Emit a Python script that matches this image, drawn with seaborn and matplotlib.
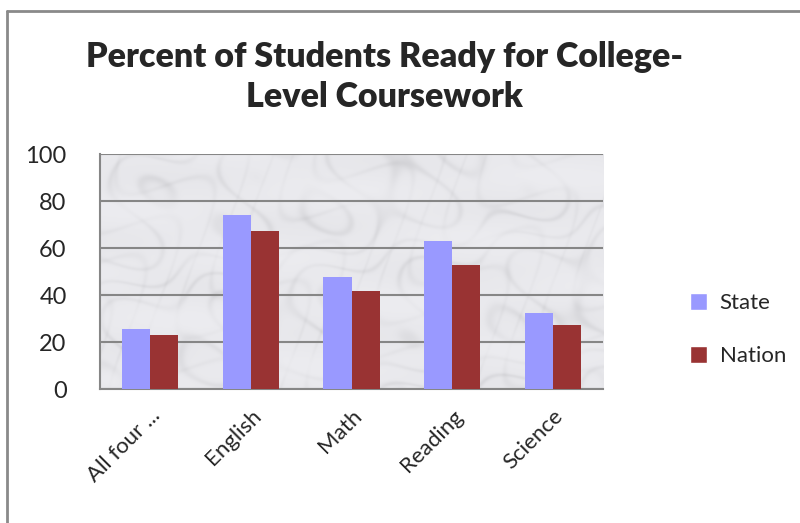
import numpy as np
import pandas as pd
import matplotlib
matplotlib.use("Agg")
import matplotlib.pyplot as plt
import seaborn as sns
from matplotlib.lines import Line2D
from matplotlib.patches import Patch

categories = ["All four ...", "English", "Math", "Reading", "Science"]
state = [25.5, 73.9, 47.7, 63.0, 32.3]
nation = [23.1, 67.2, 41.7, 52.8, 27.2]
series_names = ["State", "Nation"]
y_ticks = [0, 20, 40, 60, 80, 100]
title = "Percent of Students Ready for College-\nLevel Coursework"

df = pd.DataFrame({
    "Subject": categories * 2,
    "Percent": state + nation,
    "Series": [series_names[0]] * len(categories) + [series_names[1]] * len(categories),
})

sns.set_style("white")
plt.rcParams["font.family"] = ["Lato", "DejaVu Sans"]

fig = plt.figure(figsize=(8, 5.23), dpi=100)
ax = fig.add_axes([0.125, 0.256, 0.629, 0.4495])

# marble-like background texture (deterministic)
yy, xx = np.mgrid[0:240, 0:500]
u = xx / 500.0
v = yy / 240.0
w1 = np.sin(14 * (u + 0.7 * v) + 2.5 * np.sin(11 * v + 3 * u) + 1.5 * np.sin(29 * u - 9 * v))
w2 = np.sin(31 * (u - 0.2 * v) + 3 * np.sin(17 * u + 7 * v))
w3 = np.sin(8 * u + 5 * v) * np.sin(21 * v - 4 * u)
veins = np.exp(-(w1 * 3.0) ** 2) * 0.6 + np.exp(-(w2 * 4.0) ** 2) * 0.35
base = 0.925 - 0.09 * veins * (0.6 + 0.4 * w3) - 0.02 * (w3 + 1) / 2
img = np.dstack([base, base, base + 0.015])
img = np.clip(img, 0, 1)
ax.imshow(img, extent=(-0.5, 4.5, 0, 100), aspect="auto", zorder=0, interpolation="bilinear")

sns.barplot(data=df, x="Subject", y="Percent", hue="Series",
            palette={"State": "#9999FF", "Nation": "#993333"},
            width=0.56, saturation=1, ax=ax, zorder=3, legend=False,
            linewidth=0, edgecolor="none")

ax.set_xlim(-0.5, 4.5)
ax.set_ylim(0, 100)
ax.set_yticks(y_ticks)
ax.set_yticklabels([str(t) for t in y_ticks], fontsize=17)
ax.set_xticks(range(len(categories)))
ax.set_xticklabels(categories, rotation=45, ha="right", rotation_mode="anchor", fontsize=16)
ax.tick_params(axis="y", length=0, pad=24)
ax.tick_params(axis="x", length=0, pad=12)
ax.set_xlabel("")
ax.set_ylabel("")
ax.yaxis.grid(True, color="#868686", linewidth=1.5, zorder=1)
for s in ["top", "right"]:
    ax.spines[s].set_visible(False)
for s in ["left", "bottom"]:
    ax.spines[s].set_color("#868686")
    ax.spines[s].set_linewidth(1.5)

fig.suptitle(title, x=0.481, y=0.922, fontsize=24.5, fontweight="heavy", linespacing=1.3)

handles = [Patch(facecolor="#9999FF"), Patch(facecolor="#993333")]
fig.legend(handles, series_names, loc="center left", bbox_to_anchor=(0.862, 0.37),
           frameon=False, fontsize=16, handlelength=0.8, handleheight=0.8,
           labelspacing=1.45, handletextpad=0.55, borderaxespad=0, borderpad=0)

# outer frame
fig.add_artist(Line2D([0.009, 0.009], [0, 0.979], transform=fig.transFigure, color="#8a8a8a", linewidth=2))
fig.add_artist(Line2D([0.009, 1.0], [0.979, 0.979], transform=fig.transFigure, color="#8a8a8a", linewidth=2))

fig.savefig("out.png", dpi=100, facecolor="white")
